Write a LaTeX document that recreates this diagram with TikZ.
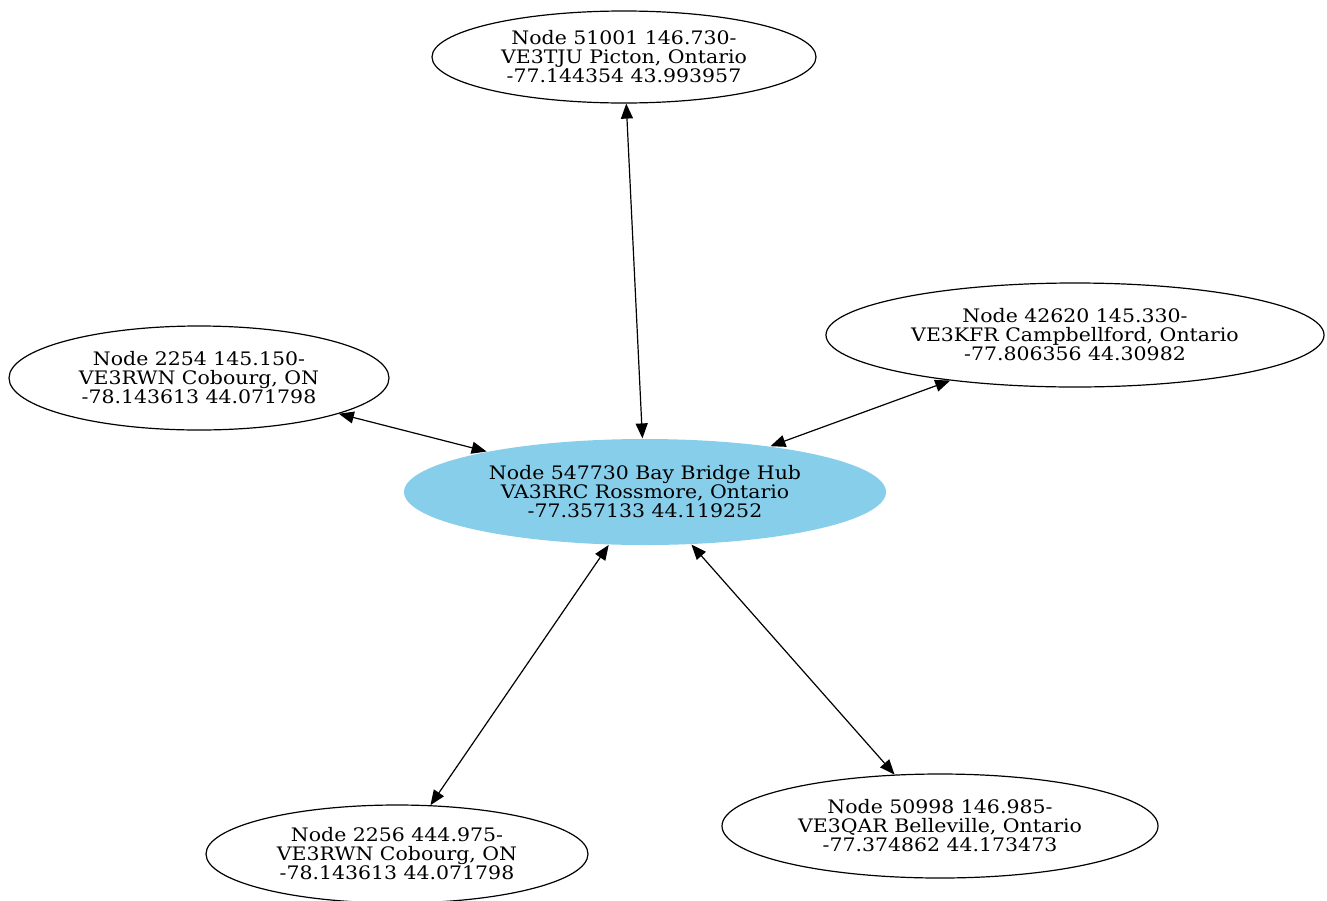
\documentclass[tikz,border=0pt]{standalone}
\usepackage{fontspec}
\setmainfont{DejaVu Serif}[FakeStretch=1.1]
\usetikzlibrary{shapes.geometric,arrows.meta}
\definecolor{hubblue}{HTML}{87CEEB}
\tikzset{
  gnode/.style={ellipse, draw=black, line width=1.2pt, inner sep=0pt, align=center,
    font=\fontsize{18.6pt}{19pt}\selectfont},
  hubnode/.style={gnode, draw=none, fill=hubblue},
  link/.style={line width=1.2pt, {Triangle[length=15pt,width=12pt]}-{Triangle[length=15pt,width=12pt]}}
}
\begin{document}
\begin{tikzpicture}[x=1pt,y=-1pt]
\useasboundingbox (0,0) rectangle (1327,900);
\node[hubnode, minimum width=482pt, minimum height=106pt] (hub) at (645,492)
  {Node 547730 Bay Bridge Hub\\VA3RRC Rossmore, Ontario\\-77.357133 44.119252};
\node[gnode, minimum width=384pt, minimum height=92pt] (n51001) at (624,57)
  {Node 51001 146.730-\\VE3TJU Picton, Ontario\\-77.144354 43.993957};
\node[gnode, minimum width=380pt, minimum height=104pt] (n2254) at (199,378)
  {Node 2254 145.150-\\VE3RWN Cobourg, ON\\-78.143613 44.071798};
\node[gnode, minimum width=498pt, minimum height=104pt] (n42620) at (1075,335)
  {Node 42620 145.330-\\VE3KFR Campbellford, Ontario\\-77.806356 44.30982};
\node[gnode, minimum width=382pt, minimum height=98pt] (n2256) at (397,854)
  {Node 2256 444.975-\\VE3RWN Cobourg, ON\\-78.143613 44.071798};
\node[gnode, minimum width=436pt, minimum height=104pt] (n50998) at (940,826)
  {Node 50998 146.985-\\VE3QAR Belleville, Ontario\\-77.374862 44.173473};
\draw[link] (hub) -- (n51001);
\draw[link] (hub) -- (n2254);
\draw[link] (hub) -- (n42620);
\draw[link] (hub) -- (n2256);
\draw[link] (hub) -- (n50998);
\end{tikzpicture}
\end{document}
